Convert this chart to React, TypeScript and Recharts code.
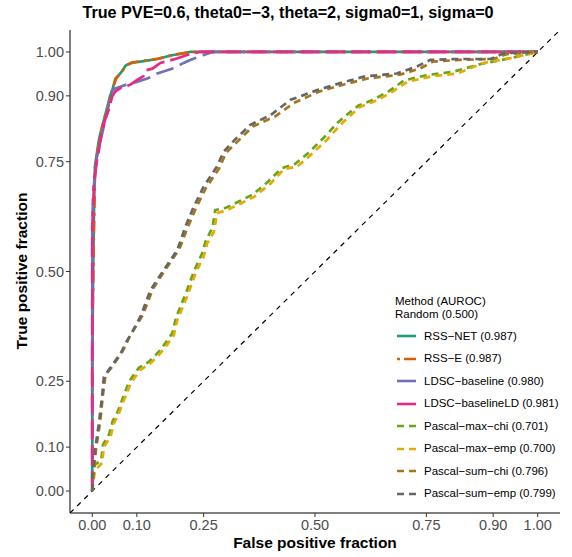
import { LineChart, Line, XAxis, YAxis, Legend } from "recharts"

const FONT = "'Liberation Sans', Arial, Helvetica, sans-serif"

const xTicks = [0, 0.1, 0.25, 0.5, 0.75, 0.9, 1]
const yTicks = [0, 0.1, 0.25, 0.5, 0.75, 0.9, 1]

// ROC curves (false positive fraction, true positive fraction)
const rssNetFpr = [0, 0, 0.002, 0.004, 0.006, 0.012, 0.015, 0.022, 0.026, 0.034, 0.04, 0.045, 0.052, 0.064, 0.075, 0.086, 0.108, 0.146, 0.176, 0.205, 0.22, 1]
const rssNetTpr = [0, 0.3, 0.5, 0.65, 0.74, 0.78, 0.8, 0.83, 0.845, 0.875, 0.9, 0.913, 0.939, 0.952, 0.969, 0.975, 0.978, 0.984, 0.992, 0.997, 1, 1]

const rssEFpr = [0, 0, 0.003, 0.006, 0.01, 0.016, 0.024, 0.03, 0.036, 0.045, 0.054, 0.066, 0.078, 0.09, 0.11, 0.15, 0.18, 0.21, 0.23, 1]
const rssETpr = [0, 0.35, 0.55, 0.72, 0.76, 0.8, 0.835, 0.86, 0.88, 0.915, 0.94, 0.955, 0.97, 0.976, 0.979, 0.985, 0.993, 0.998, 1, 1]

const ldscFpr = [0, 0, 0.002, 0.006, 0.01, 0.019, 0.028, 0.034, 0.04, 0.045, 0.052, 0.075, 0.101, 0.125, 0.146, 0.183, 0.205, 0.221, 0.25, 0.27, 1]
const ldscTpr = [0, 0.6, 0.68, 0.72, 0.76, 0.8, 0.84, 0.861, 0.9, 0.912, 0.917, 0.925, 0.932, 0.94, 0.951, 0.963, 0.975, 0.982, 0.993, 1, 1]

const ldscLdFpr = [0, 0, 0.004, 0.01, 0.015, 0.022, 0.03, 0.037, 0.045, 0.052, 0.064, 0.085, 0.1, 0.115, 0.12, 0.135, 0.153, 0.19, 0.213, 0.24, 1]
const ldscLdTpr = [0, 0.6, 0.7, 0.75, 0.777, 0.822, 0.85, 0.868, 0.9, 0.91, 0.918, 0.925, 0.936, 0.945, 0.958, 0.962, 0.975, 0.985, 0.993, 1, 1]

const maxChiFpr = [0, 0.003, 0.006, 0.02, 0.024, 0.038, 0.046, 0.057, 0.068, 0.083, 0.104, 0.128, 0.15, 0.165, 0.18, 0.188, 0.21, 0.228, 0.246, 0.255, 0.27, 0.276, 0.3, 0.33, 0.36, 0.395, 0.425, 0.455, 0.485, 0.52, 0.55, 0.575, 0.598, 0.628, 0.665, 0.7, 0.75, 0.81, 0.87, 0.935, 0.965, 1]
const maxChiTpr = [0, 0.04, 0.06, 0.07, 0.105, 0.13, 0.16, 0.18, 0.21, 0.25, 0.28, 0.295, 0.318, 0.338, 0.36, 0.395, 0.45, 0.5, 0.54, 0.57, 0.6, 0.64, 0.645, 0.66, 0.675, 0.705, 0.735, 0.745, 0.77, 0.805, 0.838, 0.86, 0.878, 0.89, 0.91, 0.935, 0.947, 0.955, 0.972, 0.985, 0.992, 1]

const maxEmpFpr = [0, 0.004, 0.007, 0.022, 0.026, 0.041, 0.049, 0.06, 0.071, 0.086, 0.108, 0.131, 0.153, 0.168, 0.183, 0.191, 0.213, 0.232, 0.25, 0.258, 0.273, 0.28, 0.303, 0.333, 0.363, 0.4, 0.43, 0.46, 0.49, 0.527, 0.557, 0.58, 0.602, 0.632, 0.669, 0.707, 0.759, 0.819, 0.879, 0.939, 0.969, 1]
const maxEmpTpr = [0, 0.033, 0.048, 0.064, 0.1, 0.124, 0.155, 0.177, 0.207, 0.245, 0.276, 0.291, 0.314, 0.333, 0.355, 0.39, 0.443, 0.496, 0.534, 0.564, 0.59, 0.633, 0.64, 0.655, 0.67, 0.7, 0.733, 0.739, 0.765, 0.8, 0.834, 0.856, 0.875, 0.887, 0.906, 0.932, 0.944, 0.951, 0.975, 0.986, 0.993, 1]

const sumChiFpr = [0, 0.003, 0.009, 0.018, 0.024, 0.03, 0.042, 0.068, 0.083, 0.095, 0.113, 0.136, 0.158, 0.196, 0.214, 0.233, 0.255, 0.285, 0.3, 0.33, 0.36, 0.41, 0.455, 0.51, 0.565, 0.62, 0.69, 0.735, 0.765, 0.825, 0.9, 0.93, 0.995, 1]
const sumChiTpr = [0, 0.04, 0.1, 0.16, 0.22, 0.265, 0.28, 0.318, 0.35, 0.37, 0.4, 0.46, 0.495, 0.552, 0.6, 0.645, 0.69, 0.735, 0.77, 0.8, 0.83, 0.853, 0.885, 0.91, 0.926, 0.94, 0.948, 0.962, 0.978, 0.982, 0.984, 0.995, 1, 1]

const sumEmpFpr = [0, 0, 0.007, 0.015, 0.022, 0.026, 0.037, 0.064, 0.079, 0.09, 0.108, 0.131, 0.153, 0.191, 0.209, 0.228, 0.25, 0.28, 0.295, 0.32, 0.355, 0.4, 0.445, 0.505, 0.557, 0.61, 0.684, 0.729, 0.759, 0.819, 0.894, 0.924, 0.99, 1]
const sumEmpTpr = [0, 0.033, 0.1, 0.155, 0.215, 0.26, 0.276, 0.314, 0.344, 0.363, 0.397, 0.458, 0.492, 0.549, 0.602, 0.648, 0.693, 0.739, 0.773, 0.8, 0.834, 0.856, 0.891, 0.913, 0.929, 0.944, 0.951, 0.967, 0.982, 0.984, 0.984, 0.997, 1, 1]

const randomFpr = [-0.05, 1.05]
const randomTpr = [-0.05, 1.05]

const methodNames = ["RSS−NET", "RSS−E", "LDSC−baseline", "LDSC−baselineLD", "Pascal−max−chi", "Pascal−max−emp", "Pascal−sum−chi", "Pascal−sum−emp"]
const aurocs = [0.987, 0.987, 0.98, 0.981, 0.701, 0.7, 0.796, 0.799]

const colors = ["#1b9e77", "#d95f02", "#7570b3", "#e7298a", "#66a61e", "#e6ab02", "#a6761d", "#666666"]
const dashes = ["", "3 5 12 5", "18 7", "20 6", "7 5", "7 5", "7 5", "7 5"]
const legendDashes = ["", "3 4 12 4", "", "", "7 5", "7 5", "7 5", "7 5"]

const toPoints = (xs: number[], ys: number[]) => xs.map((x, i) => ({ x, y: ys[i] }))

const curves = [
  toPoints(rssNetFpr, rssNetTpr),
  toPoints(rssEFpr, rssETpr),
  toPoints(ldscFpr, ldscTpr),
  toPoints(ldscLdFpr, ldscLdTpr),
  toPoints(maxChiFpr, maxChiTpr),
  toPoints(maxEmpFpr, maxEmpTpr),
  toPoints(sumChiFpr, sumChiTpr),
  toPoints(sumEmpFpr, sumEmpTpr),
]

const series = methodNames.map((name, i) => ({
  name,
  label: `${name} (${aurocs[i].toFixed(3)})`,
  color: colors[i],
  dash: dashes[i],
  legendDash: legendDashes[i],
  data: curves[i],
}))

function MethodLegend() {
  return (
    <div style={{ fontFamily: FONT, fontSize: 11.5, color: "#000", lineHeight: "13px" }}>
      <div>Method (AUROC)</div>
      <div>Random (0.500)</div>
      <div style={{ marginTop: 4 }}>
        {series.map((s) => (
          <div key={s.name} style={{ display: "flex", alignItems: "center", height: 22.5 }}>
            <svg width={27} height={10} style={{ marginLeft: 2 }}>
              <line x1={0} y1={5} x2={19} y2={5} stroke={s.color} strokeWidth={2.6} strokeDasharray={s.legendDash || undefined} />
            </svg>
            <span>{s.label}</span>
          </div>
        ))}
      </div>
    </div>
  )
}

export default function App() {
  return (
    <div style={{ position: "absolute", left: 0, top: 0, width: 572, height: 557, background: "#fff" }}>
      <div
        style={{
          position: "absolute",
          left: 0,
          top: 3,
          width: 576,
          textAlign: "center",
          fontFamily: FONT,
          fontWeight: "bold",
          fontSize: 16.2,
        }}
      >
        True PVE=0.6, theta0=−3, theta=2, sigma0=1, sigma=0
      </div>
      <div
        style={{
          position: "absolute",
          left: 22,
          top: 271,
          transform: "translate(-50%, -50%) rotate(-90deg)",
          whiteSpace: "nowrap",
          fontFamily: FONT,
          fontWeight: "bold",
          fontSize: 15.5,
        }}
      >
        True positive fraction
      </div>
      <div
        style={{
          position: "absolute",
          left: 70,
          width: 490,
          top: 534,
          textAlign: "center",
          fontFamily: FONT,
          fontWeight: "bold",
          fontSize: 15.5,
        }}
      >
        False positive fraction
      </div>
      <LineChart width={572} height={557} margin={{ top: 30, right: 12, bottom: 0, left: 0 }}>
        <XAxis
          type="number"
          dataKey="x"
          domain={[-0.05, 1.05]}
          ticks={xTicks}
          allowDataOverflow
          tickFormatter={(v: number) => v.toFixed(2)}
          height={44}
          tickSize={4}
          tickMargin={3}
          stroke="#000"
          tick={{ fill: "#4d4d4d", fontSize: 14.5, fontFamily: FONT }}
          tickLine={{ stroke: "#333" }}
        />
        <YAxis
          type="number"
          dataKey="y"
          domain={[-0.05, 1.05]}
          ticks={yTicks}
          allowDataOverflow
          tickFormatter={(v: number) => v.toFixed(2)}
          width={70}
          tickSize={4}
          tickMargin={2}
          stroke="#000"
          tick={{ fill: "#4d4d4d", fontSize: 14.5, fontFamily: FONT }}
          tickLine={{ stroke: "#333" }}
        />
        <Legend
          layout="vertical"
          align="center"
          verticalAlign="middle"
          wrapperStyle={{ left: 395, top: 295, width: 175 }}
          content={() => <MethodLegend />}
        />
        <Line
          data={toPoints(randomFpr, randomTpr)}
          dataKey="y"
          type="linear"
          stroke="#000"
          strokeWidth={1.2}
          strokeDasharray="5 5"
          dot={false}
          activeDot={false}
          isAnimationActive={false}
          legendType="none"
        />
        {series.map((s) => (
          <Line
            key={s.name}
            data={s.data}
            dataKey="y"
            name={s.name}
            type="linear"
            stroke={s.color}
            strokeWidth={2.7}
            strokeDasharray={s.dash || undefined}
            dot={false}
            activeDot={false}
            isAnimationActive={false}
          />
        ))}
      </LineChart>
    </div>
  )
}
